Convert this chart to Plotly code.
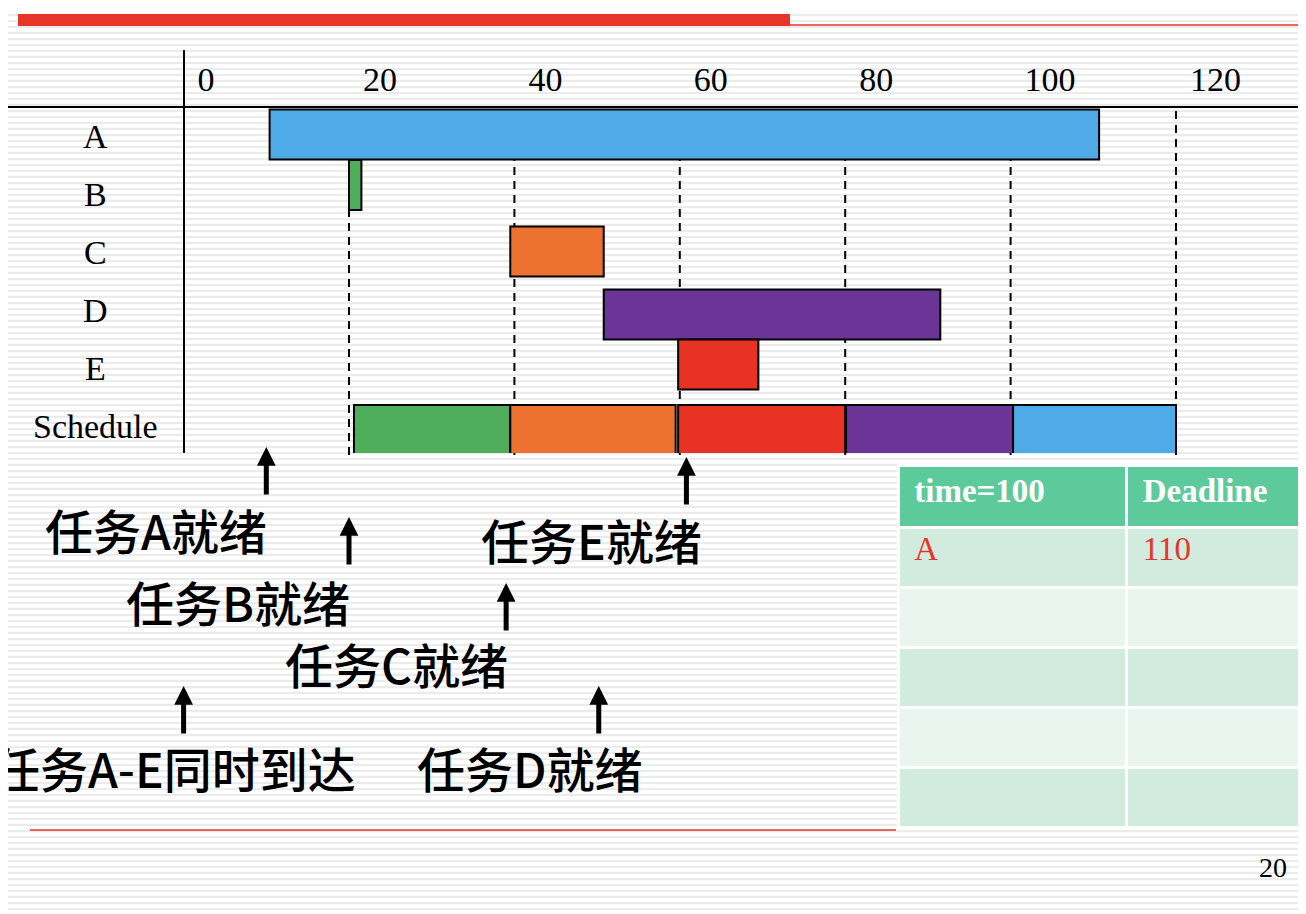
import plotly.graph_objects as go

# ---------------- data ----------------
ROWS = ["A", "B", "C", "D", "E", "Schedule"]
TASKS = ["A", "B", "C", "D", "E"]
TASK_START = [10.4, 20.0, 39.5, 50.8, 59.8]
TASK_END = [110.7, 21.5, 50.8, 91.5, 69.5]

SCHED_TASK = ["B", "C", "E", "D", "A"]
SCHED_START = [20.6, 39.5, 59.8, 80.1, 100.3]
SCHED_END = [39.5, 59.5, 80.0, 100.3, 120.0]

X_TICKS = [0, 20, 40, 60, 80, 100, 120]

EVENT_TEXT = ["任务A-E同时到达", "任务A就绪", "任务B就绪", "任务C就绪", "任务D就绪", "任务E就绪"]
EVENT_TIME = [0, 10, 20, 39, 50.2, 60.8]

TABLE_HEADER = ["time=100", "Deadline"]
TABLE_TASK = ["A", "", "", "", ""]
TABLE_DEADLINE = ["110", "", "", "", ""]

PAGE_NUMBER = "20"

# ---------------- style ----------------
# the page body has an 8px margin; the figure is sized to fill the rest of the window
OFF = 8
W, H = 1306 - OFF, 914 - OFF
COLORS = {"A": "#4eabe7", "B": "#50ad5c", "C": "#ed722f", "D": "#6a3597", "E": "#e83324"}
RED = "#e8352a"
SERIF = "Liberation Serif, Times New Roman, serif"
CJK = "Noto Sans CJK SC, sans-serif"


def px(xs):
    """screen pixel x -> paper fraction"""
    return (xs - OFF) / W


def py(ys):
    """screen pixel y -> paper fraction"""
    return 1 - (ys - OFF) / H


# axis geometry (screen pixels)
X0_PIX = 183.6
SCALE = 8.27
x_r0 = -(X0_PIX - OFF) / SCALE
x_r1 = x_r0 + W / SCALE
Y_TOP, Y_BOT = 50, 453
ROW0, ROWSTEP = 136, 58
y_lo = (Y_TOP - ROW0) / ROWSTEP
y_hi = (Y_BOT - ROW0) / ROWSTEP
BAR_W = 50 / ROWSTEP
# small vertical nudges (pixels) of each row's bar relative to its label
TASK_NUDGE = [-1.5, -9, -0.5, 4.5, -3.5]
SCHED_NUDGE = 4

fig = go.Figure()

# task rows
fig.add_trace(go.Bar(
    orientation="h",
    y=TASKS,
    base=TASK_START,
    x=[e - s for s, e in zip(TASK_START, TASK_END)],
    width=BAR_W,
    offset=[-BAR_W / 2 + n / ROWSTEP for n in TASK_NUDGE],
    marker=dict(color=[COLORS[t] for t in TASKS], line=dict(color="black", width=2)),
    hoverinfo="skip",
    showlegend=False,
))
# schedule row
fig.add_trace(go.Bar(
    orientation="h",
    y=["Schedule"] * len(SCHED_TASK),
    base=SCHED_START,
    x=[e - s for s, e in zip(SCHED_START, SCHED_END)],
    width=BAR_W,
    offset=-BAR_W / 2 + SCHED_NUDGE / ROWSTEP,
    marker=dict(color=[COLORS[t] for t in SCHED_TASK], line=dict(color="black", width=2)),
    hoverinfo="skip",
    showlegend=False,
))

# table
row_fill = ["#d1ebdf", "#eaf5ef", "#d1ebdf", "#eaf5ef", "#d1ebdf"]
NB = "\u00a0"
fig.add_trace(go.Table(
    domain=dict(x=[px(898), 1], y=[py(832), py(465)]),
    columnwidth=[229, 179],
    header=dict(
        values=[f"{NB}<b>{h}</b>" for h in TABLE_HEADER],
        fill_color="#5dca9c",
        font=dict(family=SERIF, size=33, color="white"),
        align="left",
        height=62,
        line=dict(color="white", width=3),
    ),
    cells=dict(
        values=[[NB + v for v in TABLE_TASK], [NB + v for v in TABLE_DEADLINE]],
        fill_color=[row_fill, row_fill],
        font=dict(family=SERIF, size=33, color=RED),
        align="left",
        height=60,
        line=dict(color="white", width=3),
    ),
))

shapes = []
# background stripes
for k in range(2, 914 // 6 + 1):
    yy = 3 + 6 * k
    shapes.append(dict(type="line", xref="paper", yref="paper", x0=0, x1=1,
                       y0=py(yy), y1=py(yy), line=dict(color="#ebebeb", width=2), layer="below"))
# top red bar and lines
shapes.append(dict(type="rect", xref="paper", yref="paper", x0=px(18), x1=px(790),
                   y0=py(26), y1=py(14), fillcolor=RED, line=dict(width=0), layer="below"))
shapes.append(dict(type="line", xref="paper", yref="paper", x0=px(790), x1=1,
                   y0=py(25), y1=py(25), line=dict(color=RED, width=1.5), layer="below"))
shapes.append(dict(type="line", xref="paper", yref="paper", x0=px(30), x1=px(896),
                   y0=py(830), y1=py(830), line=dict(color=RED, width=1.5), layer="below"))
# horizontal axis line extends to the left edge of the slide
shapes.append(dict(type="line", xref="paper", yref="paper", x0=0, x1=1,
                   y0=py(107), y1=py(107), line=dict(color="black", width=2), layer="below"))
# dashed guide lines
for t in X_TICKS[1:]:
    shapes.append(dict(type="line", xref="x", yref="paper", x0=t, x1=t,
                       y0=py(455), y1=py(107),
                       line=dict(color="black", width=2, dash="8px,6px"), layer="below"))

annotations = []
# row labels
for r in ROWS:
    annotations.append(dict(xref="paper", yref="y", x=px(95), y=r, text=r, showarrow=False,
                            font=dict(family=SERIF, size=34, color="black"),
                            xanchor="center", yanchor="middle"))

# event arrows and labels (screen pixel layout)
ARROW_TIP = [686, 447, 517, 583, 686, 457]
TEXT_POS = [(174, 767), (156, 529), (238, 601), (396, 663), (530, 767), (591, 539)]
for txt, t, tip, (tx, ty) in zip(EVENT_TEXT, EVENT_TIME, ARROW_TIP, TEXT_POS):
    annotations.append(dict(xref="x", yref="paper", x=t, y=py(tip), ax=0, ay=49,
                            text="", showarrow=True, arrowhead=2, arrowsize=0.75,
                            arrowwidth=5, arrowcolor="black", standoff=0))
    annotations.append(dict(xref="paper", yref="paper", x=px(tx), y=py(ty), text=txt,
                            showarrow=False,
                            font=dict(family=CJK, size=48, color="black", weight=500),
                            xanchor="center", yanchor="middle"))

annotations.append(dict(xref="paper", yref="paper", x=px(1273), y=py(867), text=PAGE_NUMBER,
                        showarrow=False, font=dict(family=SERIF, size=28, color="black"),
                        xanchor="center", yanchor="middle"))

fig.update_layout(
    width=W, height=H,
    margin=dict(l=0, r=0, t=0, b=0),
    paper_bgcolor="white",
    plot_bgcolor="rgba(0,0,0,0)",
    barmode="overlay",
    showlegend=False,
    shapes=shapes,
    annotations=annotations,
    xaxis=dict(
        domain=[0, 1],
        range=[x_r0, x_r1],
        side="top",
        anchor="free",
        position=py(107),
        tickvals=X_TICKS,
        ticktext=[str(v) for v in X_TICKS],
        ticks="",
        ticklabelposition="outside right",
        ticklabelshift=14,
        ticklabelstandoff=9,
        tickfont=dict(family=SERIF, size=34, color="black"),
        showline=False,
        showgrid=False, zeroline=False,
    ),
    yaxis=dict(
        domain=[py(Y_BOT), py(Y_TOP)],
        type="category",
        categoryorder="array",
        categoryarray=ROWS,
        range=[y_hi, y_lo],
        anchor="free",
        position=px(X0_PIX),
        showticklabels=False,
        ticks="",
        showline=True, linecolor="black", linewidth=2,
        showgrid=False, zeroline=False,
    ),
)

fig.write_html("out.html")
